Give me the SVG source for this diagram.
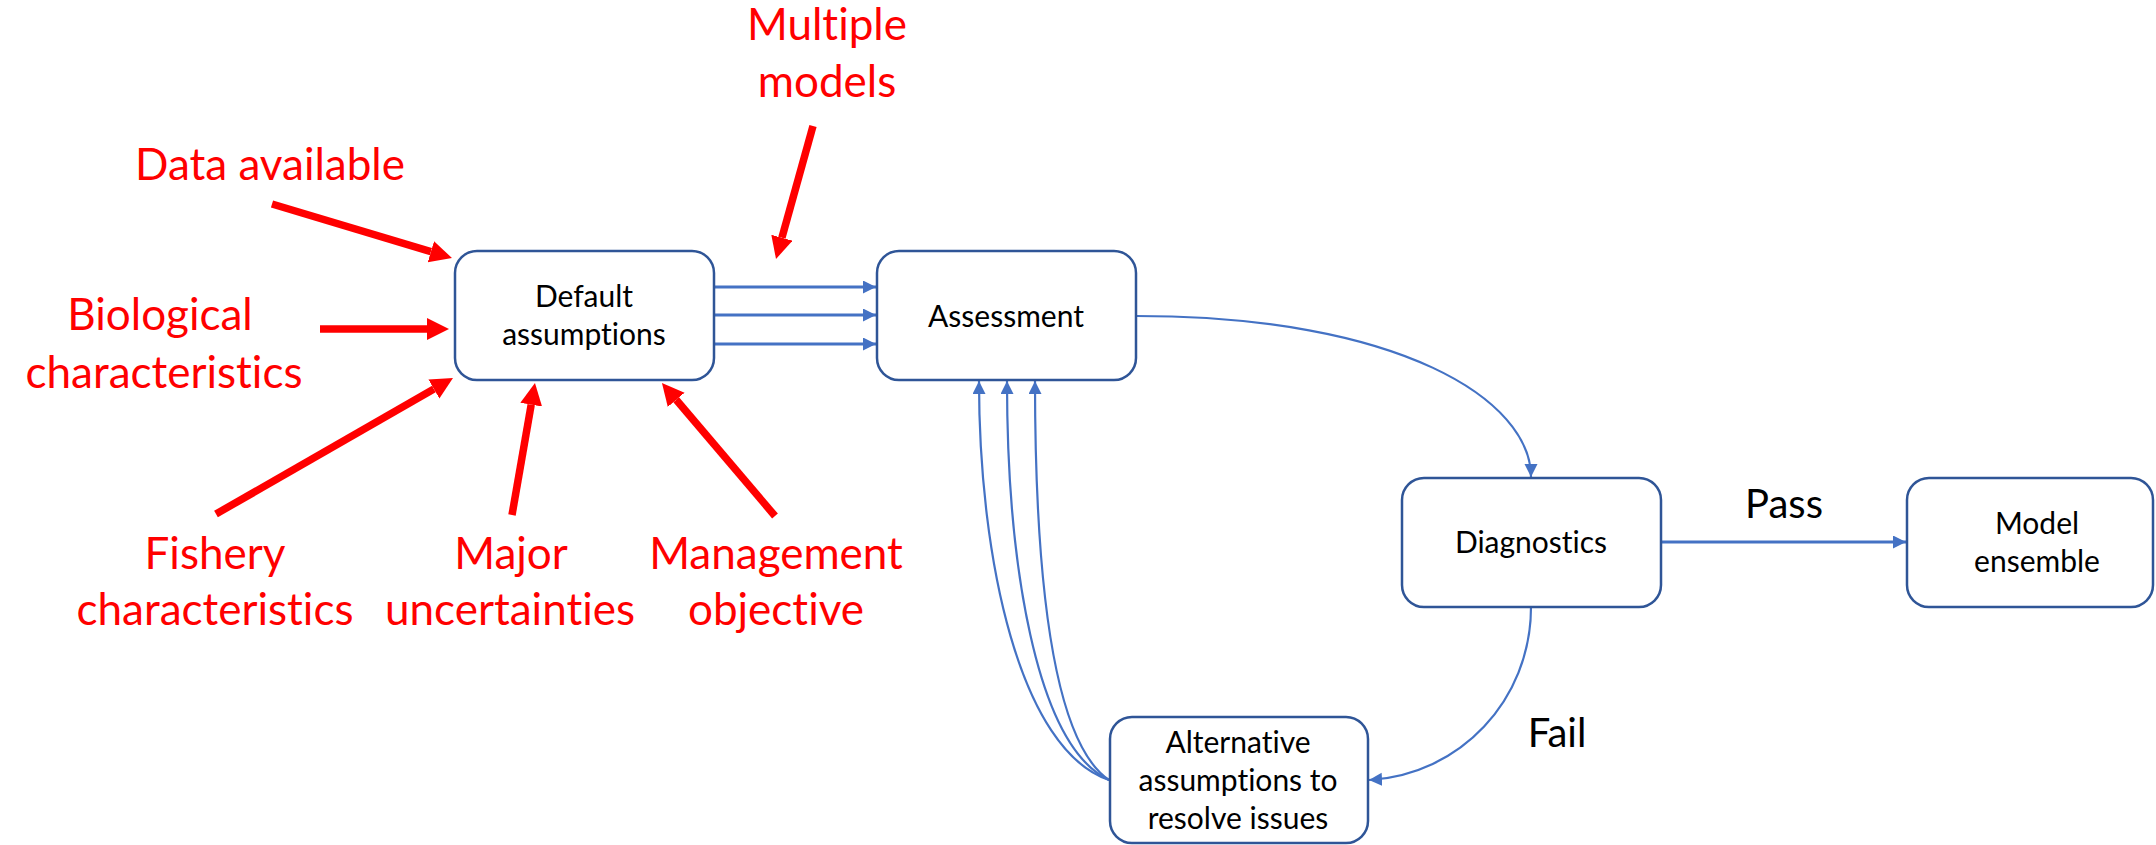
<svg xmlns="http://www.w3.org/2000/svg" width="2156" height="845" viewBox="0 0 2156 845">
  <style>
    text { font-variant-ligatures: none; font-feature-settings: "liga" 0; }
    .box { fill: #ffffff; stroke: #2F5597; stroke-width: 2.5; }
    .node-text { font-family: Lato, "Liberation Sans", sans-serif; font-size: 30px; fill: #000000; text-anchor: middle; }
    .label { font-family: Lato, "Liberation Sans", sans-serif; font-size: 44px; fill: #FF0000; text-anchor: middle; }
    .edge-label { font-family: Lato, "Liberation Sans", sans-serif; font-size: 40px; fill: #000000; text-anchor: middle; }
    .flow { fill: none; stroke: #4472C4; stroke-width: 3; }
    .loop { fill: none; stroke: #4472C4; stroke-width: 2.2; }
    .input { fill: none; stroke: #FF0000; stroke-width: 7.5; }
  </style>
  <defs>
    <marker id="blue-head" markerUnits="userSpaceOnUse" markerWidth="14" markerHeight="14" refX="13" refY="6.5" orient="auto" viewBox="0 0 14 14">
      <path d="M0,0 L13,6.5 L0,13 z" fill="#4472C4"/>
    </marker>
    <marker id="red-head" markerUnits="userSpaceOnUse" markerWidth="24" markerHeight="24" refX="0" refY="11" orient="auto" viewBox="0 0 24 24">
      <path d="M0,0 L22,11 L0,22 z" fill="#FF0000"/>
    </marker>
  </defs>

  <!-- connectors -->
  <g id="connectors">
    <!-- default assumptions to assessment -->
    <line class="flow" x1="714" y1="287" x2="876" y2="287" marker-end="url(#blue-head)"/>
    <line class="flow" x1="714" y1="315" x2="876" y2="315" marker-end="url(#blue-head)"/>
    <line class="flow" x1="714" y1="344" x2="876" y2="344" marker-end="url(#blue-head)"/>
    <!-- assessment to diagnostics -->
    <path class="loop" d="M1136,316 C1400,316 1531,400 1531,477" marker-end="url(#blue-head)"/>
    <!-- diagnostics to model ensemble (pass) -->
    <line class="flow" x1="1661" y1="542" x2="1906" y2="542" marker-end="url(#blue-head)"/>
    <!-- diagnostics to alternative assumptions (fail) -->
    <path class="loop" d="M1531,607 C1531,700 1460,775 1369,780" marker-end="url(#blue-head)"/>
    <!-- alternative assumptions back to assessment -->
    <path class="loop" d="M1109,780 C1020,750 979,560 979,381" marker-end="url(#blue-head)"/>
    <path class="loop" d="M1109,780 C1035,745 1007,560 1007,381" marker-end="url(#blue-head)"/>
    <path class="loop" d="M1109,780 C1050,740 1035,560 1035,381" marker-end="url(#blue-head)"/>
    <!-- red input arrows -->
    <line class="input" x1="272" y1="204" x2="430.9" y2="251.7" marker-end="url(#red-head)"/>
    <line class="input" x1="320" y1="329" x2="427" y2="329" marker-end="url(#red-head)"/>
    <line class="input" x1="216" y1="514" x2="433.9" y2="389" marker-end="url(#red-head)"/>
    <line class="input" x1="512" y1="515" x2="531.2" y2="404.7" marker-end="url(#red-head)"/>
    <line class="input" x1="775" y1="516" x2="676.2" y2="399.8" marker-end="url(#red-head)"/>
    <line class="input" x1="813" y1="126" x2="781.9" y2="237.8" marker-end="url(#red-head)"/>
  </g>

  <!-- edge labels -->
  <text class="edge-label" x="1784" y="518">Pass</text>
  <text class="edge-label" x="1557" y="747">Fail</text>

  <!-- input labels -->
  <g id="label-multiple-models">
    <text class="label" x="827" y="40">Multiple</text>
    <text class="label" x="827" y="97">models</text>
  </g>
  <g id="label-data-available">
    <text class="label" x="270" y="180">Data available</text>
  </g>
  <g id="label-biological">
    <text class="label" x="160" y="330">Biological</text>
    <text class="label" x="164" y="388">characteristics</text>
  </g>
  <g id="label-fishery">
    <text class="label" x="215" y="569">Fishery</text>
    <text class="label" x="215" y="625">characteristics</text>
  </g>
  <g id="label-major">
    <text class="label" x="511" y="569">Major</text>
    <text class="label" x="510" y="625">uncertainties</text>
  </g>
  <g id="label-management">
    <text class="label" x="776" y="569">Management</text>
    <text class="label" x="776" y="625">objective</text>
  </g>

  <!-- nodes -->
  <g id="node-default">
    <rect class="box" x="455" y="251" width="259" height="129" rx="22" ry="22"/>
    <text class="node-text" x="584" y="307">Default</text>
    <text class="node-text" x="584" y="345">assumptions</text>
  </g>
  <g id="node-assessment">
    <rect class="box" x="877" y="251" width="259" height="129" rx="22" ry="22"/>
    <text class="node-text" x="1006" y="327">Assessment</text>
  </g>
  <g id="node-diagnostics">
    <rect class="box" x="1402" y="478" width="259" height="129" rx="22" ry="22"/>
    <text class="node-text" x="1531" y="553">Diagnostics</text>
  </g>
  <g id="node-ensemble">
    <rect class="box" x="1907" y="478" width="246" height="129" rx="22" ry="22"/>
    <text class="node-text" x="2037" y="534">Model</text>
    <text class="node-text" x="2037" y="572">ensemble</text>
  </g>
  <g id="node-alternative">
    <rect class="box" x="1110" y="717" width="258" height="126" rx="22" ry="22"/>
    <text class="node-text" x="1238" y="753">Alternative</text>
    <text class="node-text" x="1238" y="791">assumptions to</text>
    <text class="node-text" x="1238" y="829">resolve issues</text>
  </g>
</svg>
